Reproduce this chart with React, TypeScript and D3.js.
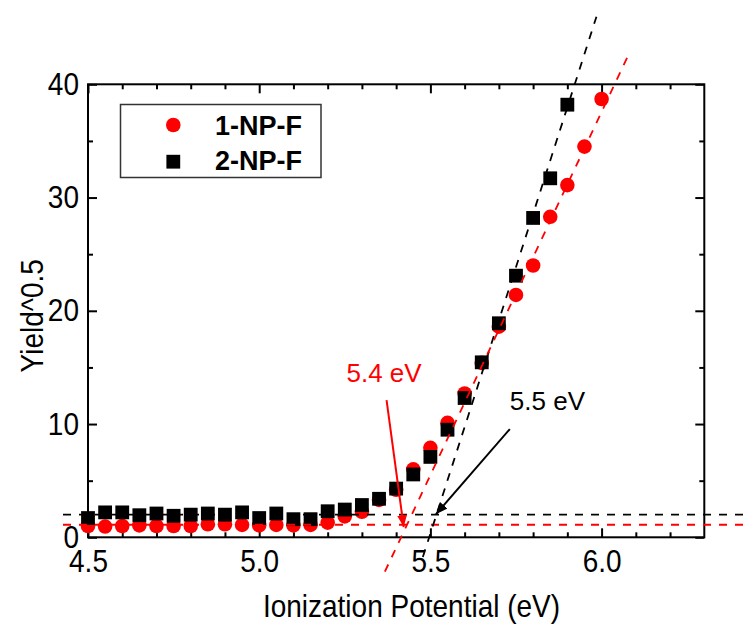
import React, { useEffect, useRef } from "react";
import * as d3 from "d3";

// photon energy (eV) for each scan point
const energy1 = [
  4.5, 4.55, 4.6, 4.65, 4.7, 4.75, 4.8, 4.85, 4.9, 4.95, 5.0, 5.05, 5.1, 5.15, 5.2, 5.25,
  5.3, 5.35, 5.4, 5.45, 5.5, 5.55, 5.6, 5.65, 5.7, 5.75, 5.8, 5.85, 5.9, 5.95, 6.0,
];
const yield1 = [
  1.0, 0.95, 1.0, 1.05, 1.0, 1.0, 1.0, 1.15, 1.15, 1.1, 1.05, 1.1, 1.05, 1.1, 1.3, 1.85,
  2.25, 3.3, 4.2, 6.0, 7.9, 10.1, 12.7, 15.4, 18.6, 21.4, 24.0, 28.3, 31.1, 34.5, 38.7,
];
const energy2 = [
  4.5, 4.55, 4.6, 4.65, 4.7, 4.75, 4.8, 4.85, 4.9, 4.95, 5.0, 5.05, 5.1, 5.15, 5.2, 5.25,
  5.3, 5.35, 5.4, 5.45, 5.5, 5.55, 5.6, 5.65, 5.7, 5.75, 5.8, 5.85, 5.9,
];
const yield2 = [
  1.7, 2.2, 2.2, 1.95, 2.1, 1.9, 2.0, 2.1, 2.0, 2.2, 1.7, 2.1, 1.6, 1.6, 2.3, 2.45,
  2.85, 3.4, 4.3, 5.55, 7.1, 9.5, 12.3, 15.45, 18.9, 23.1, 28.2, 31.7, 38.2,
];

// linear fits (onset) and background levels
const fit1: [number, number][] = [[5.367, -3.04], [6.077, 42.5]];
const fit2: [number, number][] = [[5.478, -1.74], [5.985, 45.97]];
const base1: [number, number][] = [[4.427, 1.11], [6.5, 1.11]];
const base2: [number, number][] = [[4.427, 2.0], [6.5, 2.0]];

// annotations
const arrow1: [number, number][] = [[5.372, 12.12], [5.422, 0.91]];
const arrow2: [number, number][] = [[5.732, 9.56], [5.516, 2.03]];
const label1 = { text: "5.4 eV", x: 5.255, y: 13.74 };
const label2 = { text: "5.5 eV", x: 5.732, y: 11.24 };

const xMajor = [4.5, 5.0, 5.5, 6.0];
const xMinor = [4.6, 4.7, 4.8, 4.9, 5.1, 5.2, 5.3, 5.4, 5.6, 5.7, 5.8, 5.9, 6.1, 6.2];
const yMajor = [0, 10, 20, 30, 40];
const yMinor = [5, 15, 25, 35];

const series = ["1-NP-F", "2-NP-F"];

const FONT = "'Liberation Sans', Arial, sans-serif";

const App: React.FC = () => {
  const svgRef = useRef<SVGSVGElement>(null);

  useEffect(() => {
    if (!svgRef.current) return;
    const width = 749;
    const height = 626;
    const margin = { top: 84.3, right: 44.7, bottom: 88.7, left: 88 };

    const x = d3.scaleLinear().domain([4.5, 6.3]).range([margin.left, width - margin.right]);
    const y = d3.scaleLinear().domain([0, 40]).range([height - margin.bottom, margin.top]);

    const svg = d3.select(svgRef.current).attr("width", width).attr("height", height);
    svg.selectAll("*").remove();

    const defs = svg.append("defs");
    [
      ["head-red", "#ff0000"],
      ["head-black", "#000000"],
    ].forEach(([id, color]) => {
      defs
        .append("marker")
        .attr("id", id)
        .attr("viewBox", "0 0 12 10")
        .attr("refX", 12)
        .attr("refY", 5)
        .attr("markerWidth", 12)
        .attr("markerHeight", 10)
        .attr("markerUnits", "userSpaceOnUse")
        .attr("orient", "auto")
        .append("path")
        .attr("d", "M0,0 L12,5 L0,10 Z")
        .attr("fill", color);
    });

    const x0 = margin.left;
    const x1 = width - margin.right;
    const y0 = height - margin.bottom;
    const y1 = margin.top;

    // the original labels are a bit taller than Arial at this width
    const stretch = (t: d3.Selection<any, any, any, any>) =>
      t.style("transform-box", "fill-box")
        .style("transform-origin", "center")
        .style("transform", "scaleY(1.12)");

    // axes (ticks point inward on all four sides)
    const styleAxis = (g: d3.Selection<SVGGElement, unknown, null, undefined>) => {
      g.select(".domain").remove();
      g.selectAll("line").attr("stroke", "#000").attr("stroke-width", 2);
      g.selectAll("text").attr("font-size", 28).attr("font-family", FONT).attr("fill", "#000")
        .call(stretch);
    };

    svg.append("g").attr("transform", `translate(0,${y0})`)
      .call(d3.axisBottom(x).tickValues(xMajor).tickSize(-9).tickPadding(13.5).tickFormat(d3.format(".1f")))
      .call(styleAxis);
    svg.append("g").attr("transform", `translate(0,${y0})`)
      .call(d3.axisBottom(x).tickValues(xMinor).tickSize(-5).tickFormat(() => ""))
      .call(styleAxis);
    svg.append("g").attr("transform", `translate(0,${y1})`)
      .call(d3.axisTop(x).tickValues(xMajor).tickSize(-9).tickFormat(() => ""))
      .call(styleAxis);
    svg.append("g").attr("transform", `translate(0,${y1})`)
      .call(d3.axisTop(x).tickValues(xMinor).tickSize(-5).tickFormat(() => ""))
      .call(styleAxis);
    svg.append("g").attr("transform", `translate(${x0},0)`)
      .call(d3.axisLeft(y).tickValues(yMajor).tickSize(-9).tickPadding(9).tickFormat(d3.format("d")))
      .call(styleAxis);
    svg.append("g").attr("transform", `translate(${x0},0)`)
      .call(d3.axisLeft(y).tickValues(yMinor).tickSize(-5).tickFormat(() => ""))
      .call(styleAxis);
    svg.append("g").attr("transform", `translate(${x1},0)`)
      .call(d3.axisRight(y).tickValues(yMajor).tickSize(-9).tickFormat(() => ""))
      .call(styleAxis);
    svg.append("g").attr("transform", `translate(${x1},0)`)
      .call(d3.axisRight(y).tickValues(yMinor).tickSize(-5).tickFormat(() => ""))
      .call(styleAxis);

    svg.append("rect")
      .attr("x", x0).attr("y", y1)
      .attr("width", x1 - x0).attr("height", y0 - y1)
      .attr("fill", "none").attr("stroke", "#000").attr("stroke-width", 2);

    // axis titles
    svg.append("text")
      .attr("x", 411.5).attr("y", 616)
      .attr("text-anchor", "middle")
      .attr("font-family", FONT).attr("font-size", 28)
      .text("Ionization Potential (eV)")
      .call(stretch);
    svg.append("g")
      .attr("transform", `translate(42,${(y0 + y1) / 2 + 5}) rotate(-90)`)
      .append("text")
      .attr("text-anchor", "middle")
      .attr("font-family", FONT).attr("font-size", 28)
      .text("Yield^0.5")
      .call(stretch);

    // data points
    svg.append("g").selectAll("circle")
      .data(energy1.map((e, i) => [e, yield1[i]]))
      .join("circle")
      .attr("cx", (d) => x(d[0]))
      .attr("cy", (d) => y(d[1]))
      .attr("r", 7.3)
      .attr("fill", "#ff0000");

    const sq = 13.8;
    svg.append("g").selectAll("rect")
      .data(energy2.map((e, i) => [e, yield2[i]]))
      .join("rect")
      .attr("x", (d) => x(d[0]) - sq / 2)
      .attr("y", (d) => y(d[1]) - sq / 2)
      .attr("width", sq)
      .attr("height", sq)
      .attr("fill", "#000");

    // fit lines
    const line = d3.line<[number, number]>().x((d) => x(d[0])).y((d) => y(d[1]));
    [
      [base2, "#000"],
      [base1, "#ff0000"],
      [fit2, "#000"],
      [fit1, "#ff0000"],
    ].forEach(([pts, color]) => {
      svg.append("path")
        .datum(pts as [number, number][])
        .attr("d", line)
        .attr("fill", "none")
        .attr("stroke", color as string)
        .attr("stroke-width", 1.8)
        .attr("stroke-dasharray", "8,8");
    });

    // arrows + labels
    svg.append("path").datum(arrow1).attr("d", line)
      .attr("stroke", "#ff0000").attr("stroke-width", 2).attr("fill", "none")
      .attr("marker-end", "url(#head-red)");
    svg.append("path").datum(arrow2).attr("d", line)
      .attr("stroke", "#000").attr("stroke-width", 2).attr("fill", "none")
      .attr("marker-end", "url(#head-black)");

    svg.append("text")
      .attr("x", x(label1.x)).attr("y", y(label1.y))
      .attr("font-family", FONT).attr("font-size", 26).attr("fill", "#ff0000")
      .text(label1.text);
    svg.append("text")
      .attr("x", x(label2.x)).attr("y", y(label2.y))
      .attr("font-family", FONT).attr("font-size", 26).attr("fill", "#000")
      .text(label2.text);

    // legend
    const legend = svg.append("g");
    legend.append("rect")
      .attr("x", 120.5).attr("y", 104.5).attr("width", 200.5).attr("height", 73)
      .attr("fill", "#fff").attr("stroke", "#333").attr("stroke-width", 1.5);
    legend.append("circle").attr("cx", 173.3).attr("cy", 125).attr("r", 7.3).attr("fill", "#ff0000");
    legend.append("rect").attr("x", 173.3 - sq / 2).attr("y", 161.7 - sq / 2)
      .attr("width", sq).attr("height", sq).attr("fill", "#000");
    series.forEach((s, i) => {
      legend.append("text")
        .attr("x", 215).attr("y", 134.5 + i * 35.5)
        .attr("font-family", FONT).attr("font-size", 27).attr("font-weight", "bold")
        .text(s);
    });
  }, []);

  return (
    <div>
      <svg ref={svgRef} style={{ position: "absolute", left: 0, top: 0 }}></svg>
    </div>
  );
};

export default App;
